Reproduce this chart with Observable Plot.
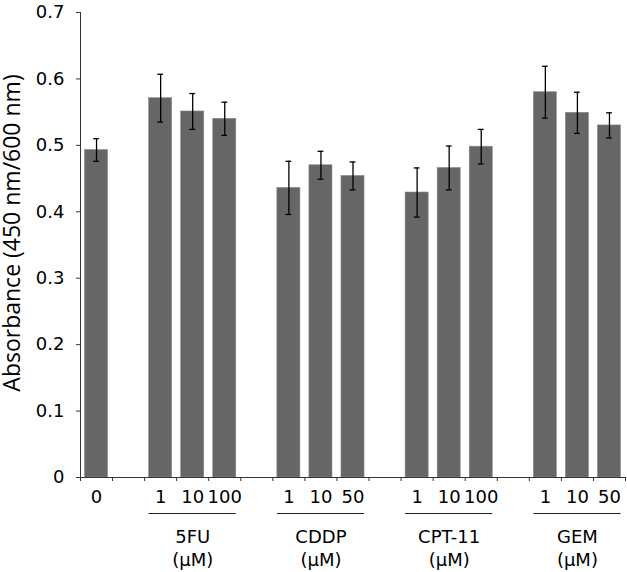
<!DOCTYPE html>
<html>
<head>
<meta charset="utf-8">
<script src="https://cdn.jsdelivr.net/npm/d3@7"></script>
<script src="https://cdn.jsdelivr.net/npm/@observablehq/plot@0.6"></script>
<style>
  html, body { margin: 0; padding: 0; background: #fff; }
  #chart svg { display: block; }
</style>
</head>
<body>
<div id="chart"></div>
<script>
// Data
const groupNames = ["", "5FU", "CDDP", "CPT-11", "GEM"];
const groupOf = [0, 1, 1, 1, 2, 2, 2, 3, 3, 3, 4, 4, 4];
const concentrations = ["0", "1", "10", "100", "1", "10", "50", "1", "10", "100", "1", "10", "50"];
const absorbance = [0.493, 0.571, 0.551, 0.540, 0.436, 0.470, 0.454, 0.429, 0.466, 0.498, 0.580, 0.549, 0.530];
const errors = [0.017, 0.036, 0.027, 0.025, 0.040, 0.021, 0.021, 0.037, 0.033, 0.026, 0.039, 0.031, 0.019];
const yTicks = [0, 0.1, 0.2, 0.3, 0.4, 0.5, 0.6, 0.7];
const unitLabel = "(μM)";
const yLabel = "Absorbance (450 nm/600 nm)";

// Layout: each bar occupies one slot, with an empty slot between groups
const rows = concentrations.map((c, i) => ({
  slot: i + groupOf[i],
  conc: c,
  value: absorbance[i],
  err: errors[i],
  group: groupOf[i]
}));
const nSlots = rows[rows.length - 1].slot + 1;
const groups = d3.groups(rows.filter(r => r.group > 0), r => r.group).map(([g, rs]) => ({
  name: groupNames[g],
  x1: d3.min(rs, r => r.slot),
  x2: d3.max(rs, r => r.slot) + 1
}));

const font = "DejaVu Sans, Verdana, sans-serif";
const fs = 18;

const chart = Plot.plot({
  width: 627,
  height: 572,
  marginLeft: 80,
  marginRight: 2,
  marginTop: 12,
  marginBottom: 95,
  style: { fontFamily: font, fontSize: fs + "px", color: "#000", background: "#fff" },
  x: { domain: [0, nSlots], axis: null, label: null },
  y: { domain: [0, 0.7], axis: null, label: null },
  marks: [
    Plot.rectY(rows, { x1: "slot", x2: r => r.slot + 1, y: "value", fill: "#666666", stroke: "#8a8a8a", strokeWidth: 0.6, insetLeft: 4.5, insetRight: 4.5 }),
    // error bars
    Plot.ruleX(rows, { x: r => r.slot + 0.5, y1: r => r.value - r.err, y2: r => r.value + r.err, stroke: "#000", strokeWidth: 1.3 }),
    Plot.ruleY(rows, { y: r => r.value + r.err, x1: r => r.slot + 0.41, x2: r => r.slot + 0.59, stroke: "#000", strokeWidth: 1.3 }),
    Plot.ruleY(rows, { y: r => r.value - r.err, x1: r => r.slot + 0.41, x2: r => r.slot + 0.59, stroke: "#000", strokeWidth: 1.3 }),
    // axes
    Plot.axisY({ ticks: yTicks, tickFormat: d => d === 0 ? "0" : d.toFixed(1), tickSize: 4, tickPadding: 12, stroke: "#333", fontSize: fs, fontFamily: font, fill: "#000", label: null }),
    Plot.axisX({ ticks: d3.range(nSlots + 1), tickFormat: () => "", tickSize: 4, stroke: "#333", label: null }),
    Plot.ruleX([0], { stroke: "#333", strokeWidth: 1 }),
    Plot.ruleY([0], { stroke: "#333", strokeWidth: 1 }),
    // concentration labels
    Plot.text(rows, { x: r => r.slot + 0.5, y: 0, text: "conc", dy: 20, fontSize: fs, fontFamily: font, fill: "#000" }),
    // group underline and names
    Plot.ruleY(groups, { y: 0, x1: g => g.x1 + 0.14, x2: g => g.x2 - 0.14, dy: 36, stroke: "#222", strokeWidth: 1.2 }),
    Plot.text(groups, { x: g => (g.x1 + g.x2) / 2, y: 0, text: "name", dy: 60, fontSize: fs, fontFamily: font, fill: "#000" }),
    Plot.text(groups, { x: g => (g.x1 + g.x2) / 2, y: 0, text: () => unitLabel, dy: 83, fontSize: fs, fontFamily: font, fill: "#000" }),
    // y label
    Plot.text([yLabel], { frameAnchor: "left", textAnchor: "middle", dx: -68, dy: -12, rotate: -90, fontSize: 23, fontFamily: "Open Sans, sans-serif", fill: "#000" })
  ]
});
document.getElementById("chart").appendChild(chart);
</script>
</body>
</html>
